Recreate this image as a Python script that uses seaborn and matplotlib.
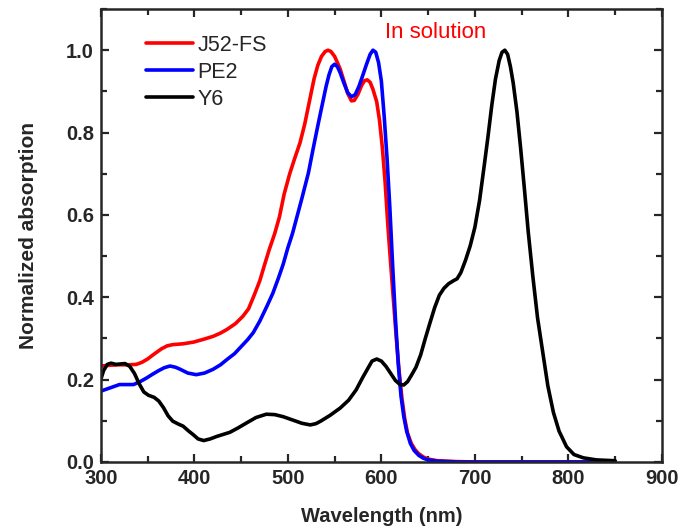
import pandas as pd
import numpy as np
import matplotlib
matplotlib.use("Agg")
import matplotlib.pyplot as plt
import seaborn as sns
from matplotlib.ticker import MultipleLocator, FormatStrFormatter

sns.set_style("ticks")
plt.rcParams['font.family'] = ['Liberation Sans', 'DejaVu Sans']

# ============================================
# Data
# ============================================

j52_wl = [300, 310, 320, 330, 338, 344, 350, 357, 365, 371, 377, 388, 399, 410,
          420, 428, 435, 444, 452, 458, 464, 470, 475, 480, 486, 491, 496, 502,
          507, 513, 518, 523, 528, 532, 536, 540, 543, 546, 550, 553, 556, 560,
          564, 568, 571, 575, 579, 582, 585, 588, 591, 595, 598, 601, 604, 607,
          610, 613, 616, 619, 622, 625, 628, 632, 636, 640, 645, 650, 660, 680,
          700, 750, 800, 850]
j52_abs = [0.233, 0.235, 0.236, 0.236, 0.237, 0.242, 0.250, 0.262, 0.275, 0.282,
           0.285, 0.287, 0.291, 0.298, 0.305, 0.313, 0.322, 0.336, 0.354, 0.372,
           0.405, 0.440, 0.478, 0.515, 0.555, 0.595, 0.650, 0.700, 0.735, 0.775,
           0.820, 0.875, 0.930, 0.963, 0.985, 0.997, 1.000, 0.997, 0.985, 0.970,
           0.954, 0.925, 0.895, 0.877, 0.878, 0.893, 0.915, 0.926, 0.928, 0.922,
           0.905, 0.875, 0.830, 0.765, 0.680, 0.573, 0.480, 0.390, 0.300, 0.220,
           0.155, 0.105, 0.070, 0.045, 0.030, 0.020, 0.012, 0.007, 0.003, 0.001,
           0.0, 0.0, 0.0, 0.0]

pe2_wl = [300, 310, 320, 335, 342, 349, 356, 362, 368, 374, 380, 385, 393, 402,
          411, 420, 428, 435, 443, 450, 457, 463, 470, 478, 484, 490, 495, 500,
          505, 509, 515, 522, 527, 532, 537, 541, 544, 547, 550, 553, 556, 560,
          564, 568, 572, 576, 580, 584, 588, 591, 594, 597, 600, 603, 606, 609,
          612, 615, 618, 621, 624, 627, 631, 635, 640, 645, 650, 660, 680, 700,
          750, 800, 850]
pe2_abs = [0.172, 0.180, 0.188, 0.188, 0.195, 0.204, 0.214, 0.222, 0.229, 0.233,
           0.230, 0.225, 0.216, 0.212, 0.216, 0.225, 0.236, 0.249, 0.263, 0.280,
           0.297, 0.314, 0.342, 0.380, 0.410, 0.447, 0.480, 0.520, 0.555, 0.589,
           0.640, 0.702, 0.760, 0.816, 0.870, 0.913, 0.940, 0.960, 0.966, 0.960,
           0.945, 0.920, 0.897, 0.887, 0.892, 0.912, 0.938, 0.965, 0.990, 1.000,
           0.995, 0.970, 0.925, 0.840, 0.740, 0.621, 0.480, 0.350, 0.240, 0.160,
           0.110, 0.075, 0.045, 0.028, 0.016, 0.009, 0.005, 0.002, 0.0, 0.0,
           0.0, 0.0, 0.0]

y6_wl = [300, 303, 307, 311, 316, 321, 326, 331, 336, 341, 346, 351, 357, 362,
         367, 372, 377, 383, 388, 394, 399, 404, 410, 417, 424, 431, 438, 447,
         456, 466, 477, 486, 495, 505, 515, 524, 530, 535, 545, 556, 565, 573,
         580, 585, 590, 595, 600, 605, 610, 615, 620, 624, 628, 632, 637, 642,
         647, 652, 657, 662, 667, 672, 677, 681, 685, 690, 695, 700, 705, 710,
         714, 718, 722, 726, 729, 732, 735, 738, 741, 745, 749, 753, 757, 762,
         767, 773, 778, 784, 790, 798, 806, 816, 830, 850]
y6_abs = [0.200, 0.222, 0.237, 0.240, 0.237, 0.238, 0.239, 0.232, 0.215, 0.190,
          0.170, 0.162, 0.157, 0.148, 0.132, 0.112, 0.099, 0.092, 0.087, 0.075,
          0.066, 0.056, 0.052, 0.056, 0.062, 0.067, 0.072, 0.083, 0.095, 0.108,
          0.116, 0.115, 0.110, 0.102, 0.094, 0.090, 0.093, 0.099, 0.113, 0.131,
          0.150, 0.175, 0.205, 0.225, 0.245, 0.250, 0.245, 0.232, 0.215, 0.198,
          0.188, 0.187, 0.195, 0.210, 0.230, 0.260, 0.300, 0.338, 0.375, 0.405,
          0.422, 0.433, 0.440, 0.445, 0.460, 0.490, 0.525, 0.570, 0.635, 0.720,
          0.790, 0.865, 0.930, 0.975, 0.995, 1.000, 0.990, 0.960, 0.920, 0.850,
          0.760, 0.662, 0.560, 0.450, 0.350, 0.260, 0.185, 0.120, 0.075, 0.037,
          0.018, 0.010, 0.005, 0.003]

names = ["J52-FS", "PE2", "Y6"]
colors = ["#ff0000", "#0000ff", "#000000"]

df = pd.concat([
    pd.DataFrame({"wavelength": j52_wl, "absorption": j52_abs, "sample": "J52-FS"}),
    pd.DataFrame({"wavelength": pe2_wl, "absorption": pe2_abs, "sample": "PE2"}),
    pd.DataFrame({"wavelength": y6_wl, "absorption": y6_abs, "sample": "Y6"}),
], ignore_index=True)

# ============================================
# Plot
# ============================================

fig = plt.figure(figsize=(6.81, 5.31), dpi=100)
ax = fig.add_axes([0.148, 0.130, 0.824, 0.853])

sns.lineplot(data=df, x="wavelength", y="absorption", hue="sample",
             hue_order=names, palette=colors, linewidth=2.6, sort=False,
             estimator=None, ax=ax)

ax.set_xlim(300, 900)
ax.set_ylim(0, 1.1)
ax.xaxis.set_major_locator(MultipleLocator(100))
ax.xaxis.set_minor_locator(MultipleLocator(50))
ax.yaxis.set_major_locator(MultipleLocator(0.2))
ax.yaxis.set_minor_locator(MultipleLocator(0.1))
ax.yaxis.set_major_formatter(FormatStrFormatter("%.1f"))

ax.tick_params(which="both", direction="in", top=True, right=True, width=1.6)
ax.tick_params(which="major", length=6, labelsize=14.5, pad=5)
ax.tick_params(which="minor", length=4)
for lab in ax.get_xticklabels() + ax.get_yticklabels():
    lab.set_fontweight("bold")
for sp in ax.spines.values():
    sp.set_linewidth(1.8)

ax.set_xlabel("Wavelength (nm)", fontsize=14.5, fontweight="bold", labelpad=14)
ax.set_ylabel("Normalized absorption", fontsize=15, fontweight="bold", labelpad=20)

leg = ax.legend(loc="upper left", bbox_to_anchor=(0.065, 0.962), frameon=False,
                fontsize=15.5, handlelength=2.2, handletextpad=0.2,
                labelspacing=0.28, borderaxespad=0)
for line in leg.get_lines():
    line.set_linewidth(2.6)

ax.text(0.506, 0.925, "In solution", transform=ax.transAxes, color="#ff0000",
        fontsize=16, ha="left", va="bottom")

plt.savefig("out.png", dpi=100)
